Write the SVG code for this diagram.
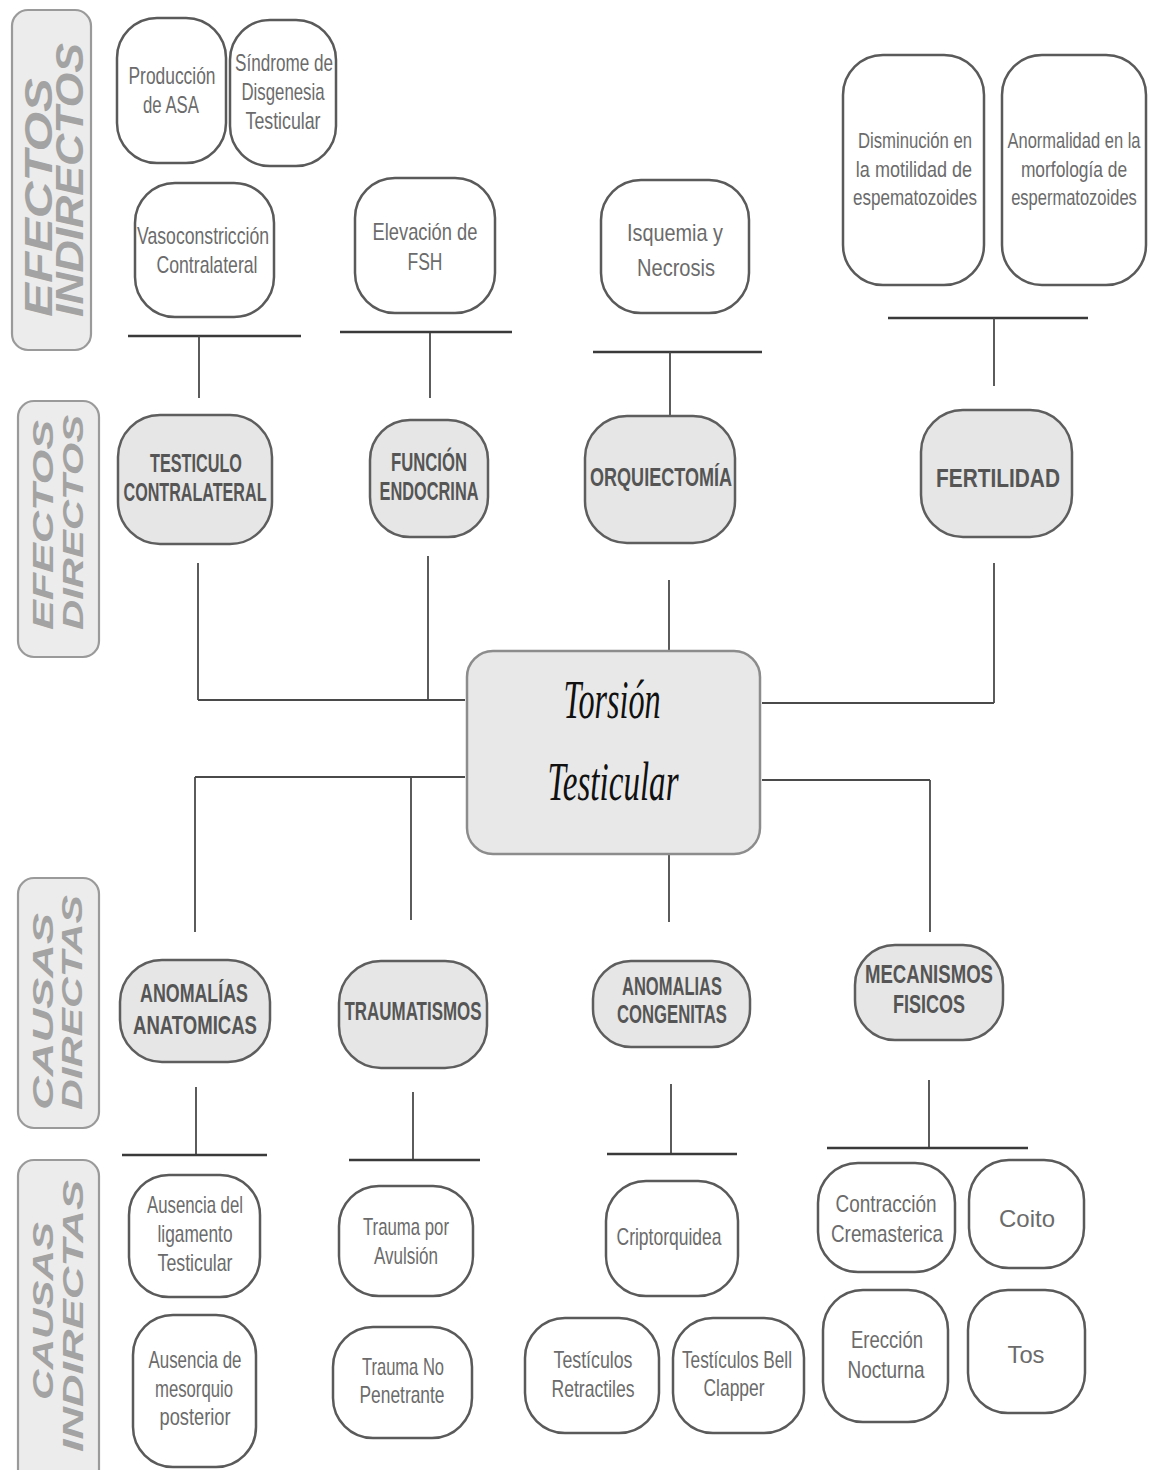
<svg xmlns="http://www.w3.org/2000/svg" width="1150" height="1470" viewBox="0 0 1150 1470">
<style>
.bg{fill:#ffffff}
.w{fill:#ffffff;stroke:#5a5a5a;stroke-width:2.5}
.g{fill:#e6e6e6;stroke:#5e5e5e;stroke-width:2.5}
.ctr{fill:#e8e8e8;stroke:#8c8c8c;stroke-width:2.5}
.lb{fill:#ececec;stroke:#9a9a9a;stroke-width:2.2}
.t{font-family:"Liberation Sans Narrow","Liberation Sans",Arial,sans-serif;font-size:24px;fill:#6b6b6b;text-anchor:middle}
.ts{font-family:"Liberation Sans",Arial,sans-serif;font-size:22px;fill:#6b6b6b;text-anchor:middle}
.h{font-family:"Liberation Sans Narrow","Liberation Sans",Arial,sans-serif;font-weight:bold;font-size:25px;fill:#555555;text-anchor:middle}
.lt{font-family:"Liberation Sans",Arial,sans-serif;font-weight:bold;font-style:italic;fill:#a3a3a3}
.ti{font-family:"Liberation Serif","Times New Roman",serif;font-style:italic;font-size:54px;fill:#111111;text-anchor:middle}
.c line{stroke:#4a4a4a;stroke-width:1.8;fill:none}
.c line.bar{stroke:#3a3a3a;stroke-width:2.6}
</style>
<rect class="bg" x="0" y="0" width="1150" height="1470"/>

<!-- Left section labels -->
<g id="lbl-efectos-indirectos">
<rect class="lb" x="12" y="10" width="79" height="340" rx="16"/>
<text class="lt" font-size="38" transform="translate(52,317) rotate(-90)" textLength="239" lengthAdjust="spacingAndGlyphs">EFECTOS</text>
<text class="lt" font-size="38" transform="translate(83,317) rotate(-90)" textLength="274" lengthAdjust="spacingAndGlyphs">INDIRECTOS</text>
</g>
<g id="lbl-efectos-directos">
<rect class="lb" x="18" y="401" width="81" height="256" rx="16"/>
<text class="lt" font-size="29" transform="translate(53,630) rotate(-90)" textLength="210" lengthAdjust="spacingAndGlyphs">EFECTOS</text>
<text class="lt" font-size="29" transform="translate(83,630) rotate(-90)" textLength="215" lengthAdjust="spacingAndGlyphs">DIRECTOS</text>
</g>
<g id="lbl-causas-directas">
<rect class="lb" x="18" y="878" width="81" height="250" rx="16"/>
<text class="lt" font-size="29" transform="translate(53,1110) rotate(-90)" textLength="197" lengthAdjust="spacingAndGlyphs">CAUSAS</text>
<text class="lt" font-size="29" transform="translate(82,1110) rotate(-90)" textLength="215" lengthAdjust="spacingAndGlyphs">DIRECTAS</text>
</g>
<g id="lbl-causas-indirectas">
<rect class="lb" x="18" y="1160" width="81" height="330" rx="16"/>
<text class="lt" font-size="29" transform="translate(53,1400) rotate(-90)" textLength="178" lengthAdjust="spacingAndGlyphs">CAUSAS</text>
<text class="lt" font-size="29" transform="translate(83,1452) rotate(-90)" textLength="272" lengthAdjust="spacingAndGlyphs">INDIRECTAS</text>
</g>

<!-- Connectors -->
<g id="connectors" class="c">
<line class="bar" x1="128" y1="336" x2="301" y2="336"/>
<line x1="199" y1="336" x2="199" y2="398"/>
<line class="bar" x1="340" y1="332" x2="512" y2="332"/>
<line x1="430" y1="333" x2="430" y2="398"/>
<line class="bar" x1="593" y1="352" x2="762" y2="352"/>
<line x1="670" y1="352" x2="670" y2="417"/>
<line class="bar" x1="888" y1="318" x2="1088" y2="318"/>
<line x1="994" y1="318" x2="994" y2="386"/>

<line x1="198" y1="563" x2="198" y2="700"/>
<line x1="198" y1="700" x2="465" y2="700"/>
<line x1="428" y1="556" x2="428" y2="700"/>
<line x1="669" y1="580" x2="669" y2="651"/>
<line x1="994" y1="563" x2="994" y2="703"/>
<line x1="762" y1="703" x2="994" y2="703"/>
<line x1="195" y1="777" x2="465" y2="777"/>
<line x1="195" y1="777" x2="195" y2="932"/>
<line x1="411" y1="777" x2="411" y2="920"/>
<line x1="669" y1="854" x2="669" y2="922"/>
<line x1="762" y1="780" x2="930" y2="780"/>
<line x1="930" y1="780" x2="930" y2="932"/>

<line x1="196" y1="1087" x2="196" y2="1155"/>
<line class="bar" x1="122" y1="1155" x2="267" y2="1155"/>
<line x1="413" y1="1092" x2="413" y2="1160"/>
<line class="bar" x1="349" y1="1160" x2="480" y2="1160"/>
<line x1="671" y1="1084" x2="671" y2="1154"/>
<line class="bar" x1="607" y1="1154" x2="737" y2="1154"/>
<line x1="929" y1="1080" x2="929" y2="1148"/>
<line class="bar" x1="827" y1="1148" x2="1028" y2="1148"/>
</g>

<!-- Central node -->
<g id="torsion-testicular">
<rect class="ctr" x="467" y="651" width="293" height="203" rx="26"/>
<text class="ti" x="612" y="718" textLength="97" lengthAdjust="spacingAndGlyphs">Torsión</text>
<text class="ti" x="613" y="800" textLength="131" lengthAdjust="spacingAndGlyphs">Testicular</text>
</g>

<!-- Indirect effects -->
<g id="produccion-asa">
<rect class="w" x="117" y="18" width="109" height="145" rx="40"/>
<text class="t" x="172" y="84" textLength="87" lengthAdjust="spacingAndGlyphs">Producción</text>
<text class="t" x="171" y="113" textLength="56" lengthAdjust="spacingAndGlyphs">de ASA</text>
</g>
<g id="sindrome-disgenesia">
<rect class="w" x="230" y="20" width="106" height="146" rx="40"/>
<text class="t" x="284" y="71" textLength="98" lengthAdjust="spacingAndGlyphs">Síndrome de</text>
<text class="t" x="283" y="100" textLength="83" lengthAdjust="spacingAndGlyphs">Disgenesia</text>
<text class="t" x="283" y="129" textLength="75" lengthAdjust="spacingAndGlyphs">Testicular</text>
</g>
<g id="vasoconstriccion">
<rect class="w" x="135" y="183" width="139" height="134" rx="40"/>
<text class="t" x="203" y="244" textLength="132" lengthAdjust="spacingAndGlyphs">Vasoconstricción</text>
<text class="t" x="207" y="273" textLength="101" lengthAdjust="spacingAndGlyphs">Contralateral</text>
</g>
<g id="elevacion-fsh">
<rect class="w" x="355" y="178" width="140" height="135" rx="40"/>
<text class="t" x="425" y="240" textLength="105" lengthAdjust="spacingAndGlyphs">Elevación de</text>
<text class="t" x="425" y="270" textLength="35" lengthAdjust="spacingAndGlyphs">FSH</text>
</g>
<g id="isquemia-necrosis">
<rect class="w" x="601" y="180" width="148" height="133" rx="40"/>
<text class="t" x="675" y="241" font-size="27" textLength="96" lengthAdjust="spacingAndGlyphs">Isquemia y</text>
<text class="t" x="676" y="276" font-size="27" textLength="78" lengthAdjust="spacingAndGlyphs">Necrosis</text>
</g>
<g id="disminucion-motilidad">
<rect class="w" x="843" y="55" width="141" height="230" rx="40"/>
<text class="ts" transform="translate(915,148) scale(0.76,1)">Disminución en</text>
<text class="ts" transform="translate(914,177) scale(0.82,1)">la motilidad de</text>
<text class="ts" transform="translate(915,205) scale(0.775,1)">espematozoides</text>
</g>
<g id="anormalidad-morfologia">
<rect class="w" x="1002" y="55" width="144" height="230" rx="40"/>
<text class="ts" transform="translate(1074,148) scale(0.75,1)">Anormalidad en la</text>
<text class="ts" transform="translate(1074,177) scale(0.79,1)">morfología de</text>
<text class="ts" transform="translate(1074,205) scale(0.75,1)">espermatozoides</text>
</g>

<!-- Direct effects -->
<g id="testiculo-contralateral">
<rect class="g" x="118" y="415" width="154" height="129" rx="42"/>
<text class="h" x="196" y="472" textLength="92" lengthAdjust="spacingAndGlyphs">TESTICULO</text>
<text class="h" x="195" y="501" textLength="143" lengthAdjust="spacingAndGlyphs">CONTRALATERAL</text>
</g>
<g id="funcion-endocrina">
<rect class="g" x="370" y="420" width="118" height="117" rx="40"/>
<text class="h" x="429" y="471" textLength="76" lengthAdjust="spacingAndGlyphs">FUNCIÓN</text>
<text class="h" x="429" y="500" textLength="99" lengthAdjust="spacingAndGlyphs">ENDOCRINA</text>
</g>
<g id="orquiectomia">
<rect class="g" x="585" y="416" width="150" height="127" rx="42"/>
<text class="h" x="661" y="486" textLength="142" lengthAdjust="spacingAndGlyphs">ORQUIECTOMÍA</text>
</g>
<g id="fertilidad">
<rect class="g" x="921" y="410" width="151" height="127" rx="42"/>
<text class="h" x="998" y="487" font-size="31" textLength="124" lengthAdjust="spacingAndGlyphs">FERTILIDAD</text>
</g>

<!-- Direct causes -->
<g id="anomalias-anatomicas">
<rect class="g" x="120" y="960" width="150" height="102" rx="42"/>
<text class="h" x="194" y="1002" textLength="108" lengthAdjust="spacingAndGlyphs">ANOMALÍAS</text>
<text class="h" x="195" y="1034" textLength="124" lengthAdjust="spacingAndGlyphs">ANATOMICAS</text>
</g>
<g id="traumatismos">
<rect class="g" x="339" y="961" width="148" height="107" rx="42"/>
<text class="h" x="413" y="1020" textLength="137" lengthAdjust="spacingAndGlyphs">TRAUMATISMOS</text>
</g>
<g id="anomalias-congenitas">
<rect class="g" x="593" y="961" width="157" height="86" rx="38"/>
<text class="h" x="672" y="995" textLength="100" lengthAdjust="spacingAndGlyphs">ANOMALIAS</text>
<text class="h" x="672" y="1023" textLength="110" lengthAdjust="spacingAndGlyphs">CONGENITAS</text>
</g>
<g id="mecanismos-fisicos">
<rect class="g" x="855" y="945" width="148" height="95" rx="40"/>
<text class="h" x="929" y="983" textLength="128" lengthAdjust="spacingAndGlyphs">MECANISMOS</text>
<text class="h" x="929" y="1013" textLength="72" lengthAdjust="spacingAndGlyphs">FISICOS</text>
</g>

<!-- Indirect causes -->
<g id="ausencia-ligamento">
<rect class="w" x="129" y="1175" width="131" height="122" rx="40"/>
<text class="t" x="195" y="1213" textLength="96" lengthAdjust="spacingAndGlyphs">Ausencia del</text>
<text class="t" x="195" y="1242" textLength="75" lengthAdjust="spacingAndGlyphs">ligamento</text>
<text class="t" x="195" y="1271" textLength="75" lengthAdjust="spacingAndGlyphs">Testicular</text>
</g>
<g id="ausencia-mesorquio">
<rect class="w" x="133" y="1315" width="123" height="152" rx="40"/>
<text class="t" x="195" y="1368" textLength="93" lengthAdjust="spacingAndGlyphs">Ausencia de</text>
<text class="t" x="194" y="1397" textLength="78" lengthAdjust="spacingAndGlyphs">mesorquio</text>
<text class="t" x="195" y="1425" textLength="71" lengthAdjust="spacingAndGlyphs">posterior</text>
</g>
<g id="trauma-avulsion">
<rect class="w" x="339" y="1186" width="134" height="110" rx="40"/>
<text class="t" x="406" y="1235" textLength="86" lengthAdjust="spacingAndGlyphs">Trauma por</text>
<text class="t" x="406" y="1264" textLength="64" lengthAdjust="spacingAndGlyphs">Avulsión</text>
</g>
<g id="trauma-no-penetrante">
<rect class="w" x="333" y="1327" width="139" height="111" rx="40"/>
<text class="t" x="403" y="1375" textLength="82" lengthAdjust="spacingAndGlyphs">Trauma No</text>
<text class="t" x="402" y="1403" textLength="85" lengthAdjust="spacingAndGlyphs">Penetrante</text>
</g>
<g id="criptorquidea">
<rect class="w" x="606" y="1181" width="132" height="115" rx="40"/>
<text class="t" x="669" y="1245" textLength="105" lengthAdjust="spacingAndGlyphs">Criptorquidea</text>
</g>
<g id="testiculos-retractiles">
<rect class="w" x="525" y="1318" width="134" height="115" rx="40"/>
<text class="t" x="593" y="1368" textLength="79" lengthAdjust="spacingAndGlyphs">Testículos</text>
<text class="t" x="593" y="1397" textLength="83" lengthAdjust="spacingAndGlyphs">Retractiles</text>
</g>
<g id="testiculos-bell-clapper">
<rect class="w" x="673" y="1318" width="131" height="115" rx="40"/>
<text class="t" x="737" y="1368" textLength="110" lengthAdjust="spacingAndGlyphs">Testículos Bell</text>
<text class="t" x="734" y="1396" textLength="61" lengthAdjust="spacingAndGlyphs">Clapper</text>
</g>
<g id="contraccion-cremasterica">
<rect class="w" x="818" y="1163" width="137" height="109" rx="40"/>
<text class="t" x="886" y="1212" textLength="101" lengthAdjust="spacingAndGlyphs">Contracción</text>
<text class="t" x="887" y="1242" textLength="112" lengthAdjust="spacingAndGlyphs">Cremasterica</text>
</g>
<g id="coito">
<rect class="w" x="969" y="1160" width="115" height="108" rx="40"/>
<text class="t" x="1027" y="1227" font-size="36" textLength="56" lengthAdjust="spacingAndGlyphs">Coito</text>
</g>
<g id="ereccion-nocturna">
<rect class="w" x="823" y="1290" width="125" height="132" rx="40"/>
<text class="t" x="887" y="1348" textLength="72" lengthAdjust="spacingAndGlyphs">Erección</text>
<text class="t" x="886" y="1378" textLength="77" lengthAdjust="spacingAndGlyphs">Nocturna</text>
</g>
<g id="tos">
<rect class="w" x="968" y="1290" width="117" height="123" rx="40"/>
<text class="t" x="1026" y="1363" font-size="35" textLength="37" lengthAdjust="spacingAndGlyphs">Tos</text>
</g>
</svg>
